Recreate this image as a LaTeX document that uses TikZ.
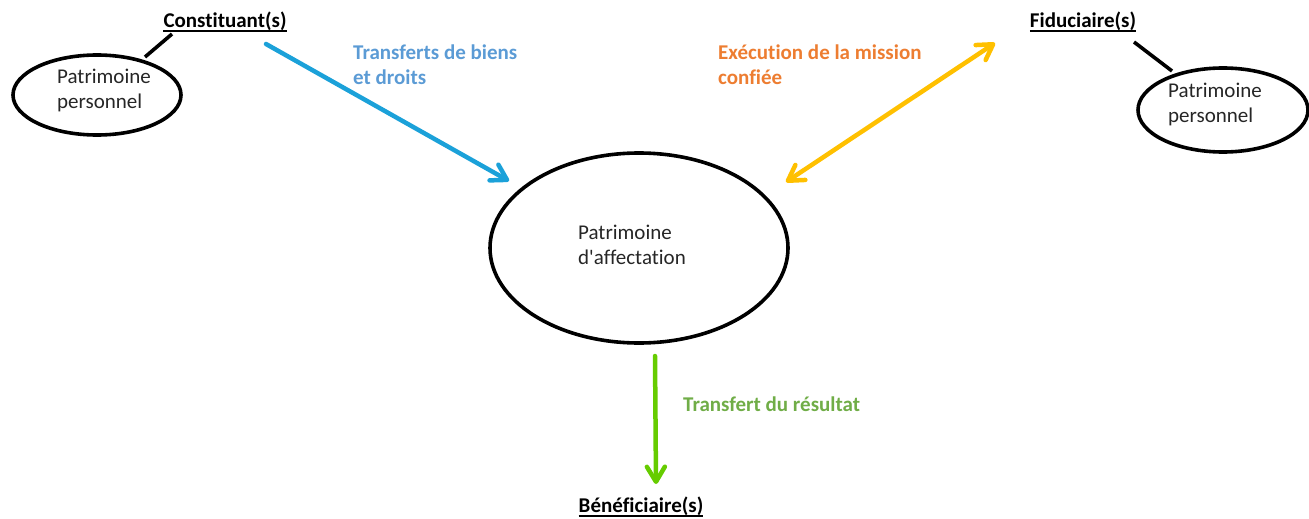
\documentclass[tikz,border=0pt]{standalone}
\usepackage{fontspec}
\setmainfont{Carlito}[Ligatures={TeXOff,NoCommon}]
\usetikzlibrary{arrows.meta,shapes.geometric}
\definecolor{flowblue}{HTML}{1BA1D9}
\definecolor{labelblue}{HTML}{5B9BD5}
\definecolor{flowgold}{HTML}{FFC000}
\definecolor{labelorange}{HTML}{ED7D31}
\definecolor{flowgreen}{HTML}{66CC00}
\definecolor{labelgreen}{HTML}{70AD47}
\definecolor{bodytext}{HTML}{262626}
\tikzset{
  patri/.style={draw=black, line width=3.6pt, ellipse, inner sep=0pt},
  body/.style={font=\fontsize{21}{25}\selectfont, text=bodytext, align=left, inner sep=0pt},
  party/.style={font=\fontsize{21}{25}\selectfont\bfseries, inner sep=0pt},
  flowlabel/.style={font=\fontsize{21}{25}\selectfont\bfseries, align=left, inner sep=0pt, anchor=north west},
  barb/.tip={Straight Barb[length=15pt,width=18pt,round]},
  flow/.style={line width=4.5pt, line cap=round, -barb},
  tie/.style={line width=3.6pt},
  uline/.style={line width=1.8pt}
}
\begin{document}
\begin{tikzpicture}[x=1pt,y=-1pt]
\useasboundingbox (0,0) rectangle (1309,519);

% personal patrimonies
\node[patri, minimum width=168pt, minimum height=80pt] (lp) at (97,95) {};
\node[patri, minimum width=170pt, minimum height=84pt] (rp) at (1223,110) {};
\node[body] (lpt) at (104,90) {Patrimoine\\personnel};
\node[body, anchor=west] (rpt) at (1168,104) {Patrimoine\\personnel};

% the allocated patrimony
\node[patri, minimum width=298pt, minimum height=190pt] (cp) at (639,248) {};
\node[body, anchor=west] (ct) at (578,245) {Patrimoine\\d'affectation};

% parties
\node[party] (const) at (225,21) {Constituant(s)};
\node[party] (fidu) at (1083,21) {Fiduciaire(s)};
\node[party] (bene) at (641,506) {Bénéficiaire(s)};
\foreach \n in {const,fidu,bene}
  \draw[uline] ([yshift=-4pt]\n.base west) -- ([yshift=-4pt]\n.base east);

% ties between parties and their own patrimony
\coordinate (lt1) at (145,57);
\coordinate (lt2) at (172,34);
\coordinate (rt1) at (1134,42);
\coordinate (rt2) at (1172,71);
\draw[tie] (lt1) -- (lt2);
\draw[tie] (rt1) -- (rt2);

% flows
\coordinate (b1) at (266,44);
\coordinate (b2) at (509,181);
\draw[flow, flowblue] (b1) -- (b2);
\coordinate (o1) at (786,182);
\coordinate (o2) at (995,43);
\draw[flow, flowgold, barb-barb] (o1) -- (o2);
\coordinate (g1) at (655,356);
\coordinate (g2) at (656,484);
\draw[flow, flowgreen] (g1) -- (g2);

% flow labels
\node[flowlabel, labelblue] (lb) at (353,45) {Transferts de biens\\et droits};
\node[flowlabel, labelorange] (lo) at (718,45) {Exécution de la mission\\confiée};
\node[flowlabel, labelgreen, anchor=west] (lg) at (683,404) {Transfert du résultat};
\end{tikzpicture}
\end{document}
